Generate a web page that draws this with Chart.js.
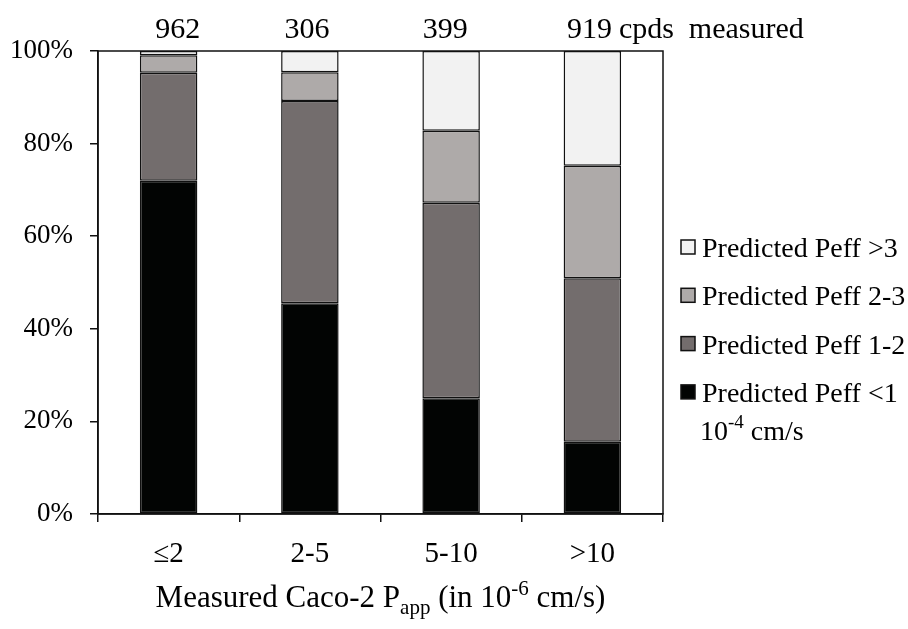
<!DOCTYPE html>
<html>
<head>
<meta charset="utf-8">
<script src="https://cdn.jsdelivr.net/npm/chart.js@4.4.1/dist/chart.umd.min.js"></script>
<style>
  html, body { margin: 0; padding: 0; background: #fff; }
  #wrap { width: 908px; height: 629px; }
</style>
</head>
<body>
<div id="wrap"><canvas id="chart" width="908" height="629"></canvas></div>
<script>
const categories = ['\u22642', '2-5', '5-10', '>10'];
const counts = ['962', '306', '399', '919'];
const peffLt1 = [72.0, 45.5, 25.0, 15.6];
const peff1to2 = [23.3, 43.7, 42.2, 35.3];
const peff2to3 = [3.8, 6.2, 15.6, 24.3];
const peffGt3 = [0.9, 4.6, 17.2, 24.8];
const seriesNames = ['Predicted Peff <1', 'Predicted Peff 1-2', 'Predicted Peff 2-3', 'Predicted Peff >3'];

const FONT = '"Liberation Serif", "Times New Roman", serif';

function seg(label, data, color) {
  return {
    label, data,
    backgroundColor: color,
    borderColor: '#111',
    borderWidth: 1.5,
    borderSkipped: false,
    barPercentage: 0.407,
    categoryPercentage: 1
  };
}

// text that chart.js can't do itself: counts, legend, sub/superscripts
const extras = {
  id: 'extras',
  afterDraw(c) {
    const ctx = c.ctx;
    const area = c.chartArea;
    const xs = c.scales.x;
    ctx.save();

    // plot box
    ctx.strokeStyle = '#111';
    ctx.lineWidth = 1.5;
    ctx.strokeRect(area.left, area.top, area.right - area.left, area.bottom - area.top);

    // counts above bars
    ctx.fillStyle = '#000';
    ctx.font = '30px ' + FONT;
    ctx.textBaseline = 'alphabetic';
    const shift = [9, -3, -6, -3];
    counts.forEach((n, i) => {
      const cx = xs.getPixelForValue(i) + shift[i];
      ctx.textAlign = 'center';
      ctx.fillText(n, cx, 38);
      if (i === counts.length - 1) {
        ctx.textAlign = 'left';
        ctx.fillText('cpds  measured', cx + ctx.measureText(n).width / 2 + 7, 38);
      }
    });

    // legend, top row is the last dataset
    ctx.font = '28px ' + FONT;
    ctx.textAlign = 'left';
    const ds = c.data.datasets;
    for (let k = 0; k < ds.length; k++) {
      const d = ds[ds.length - 1 - k];
      const cy = 247 + k * 48.3;
      ctx.fillStyle = d.backgroundColor;
      ctx.fillRect(681, cy - 7, 14, 14);
      ctx.strokeStyle = '#111';
      ctx.lineWidth = 1.5;
      ctx.strokeRect(681, cy - 7, 14, 14);
      ctx.fillStyle = '#000';
      ctx.fillText(d.label, 702, cy + 10);
    }
    // units note
    let x = 700;
    ctx.fillText('10', x, 440);
    x += ctx.measureText('10').width;
    ctx.font = '19px ' + FONT;
    ctx.fillText('-4', x, 428);
    x += ctx.measureText('-4').width;
    ctx.font = '28px ' + FONT;
    ctx.fillText(' cm/s', x, 440);

    // x axis title with subscript and superscript
    const parts = [
      ['Measured Caco-2 P', 31, 0],
      ['app', 21, 7],
      [' (in 10', 31, 0],
      ['-6', 21, -12],
      [' cm/s)', 31, 0]
    ];
    let total = 0;
    parts.forEach(p => { ctx.font = p[1] + 'px ' + FONT; total += ctx.measureText(p[0]).width; });
    x = (area.left + area.right) / 2 - total / 2;
    parts.forEach(p => {
      ctx.font = p[1] + 'px ' + FONT;
      ctx.fillText(p[0], x, 607 + p[2]);
      x += ctx.measureText(p[0]).width;
    });
    ctx.restore();
  }
};

new Chart(document.getElementById('chart'), {
  type: 'bar',
  data: {
    labels: categories,
    datasets: [
      seg(seriesNames[0], peffLt1, '#020403'),
      seg(seriesNames[1], peff1to2, '#736d6d'),
      seg(seriesNames[2], peff2to3, '#aeaaa9'),
      seg(seriesNames[3], peffGt3, '#f2f2f2')
    ]
  },
  options: {
    responsive: false,
    animation: false,
    layout: { padding: { top: 51, right: 245, left: 0, bottom: 0 } },
    plugins: {
      legend: { display: false },
      tooltip: { enabled: false }
    },
    scales: {
      x: {
        stacked: true,
        offset: true,
        afterFit: s => { s.height = 115; },
        grid: { offset: true, drawOnChartArea: false, drawTicks: true, tickLength: 8, color: '#111', lineWidth: 1.5 },
        border: { display: true, color: '#111', width: 1.5 },
        ticks: { color: '#000', font: { family: FONT, size: 29 }, padding: 15 }
      },
      y: {
        stacked: true,
        min: 0,
        max: 100,
        afterFit: s => { s.width = 98; },
        grid: { drawOnChartArea: false, drawTicks: true, tickLength: 8, color: '#111', lineWidth: 1.5 },
        border: { display: true, color: '#111', width: 1.5 },
        ticks: { stepSize: 20, color: '#000', font: { family: FONT, size: 27 }, padding: 17, callback: v => v + '%' }
      }
    }
  },
  plugins: [extras]
});
</script>
</body>
</html>
